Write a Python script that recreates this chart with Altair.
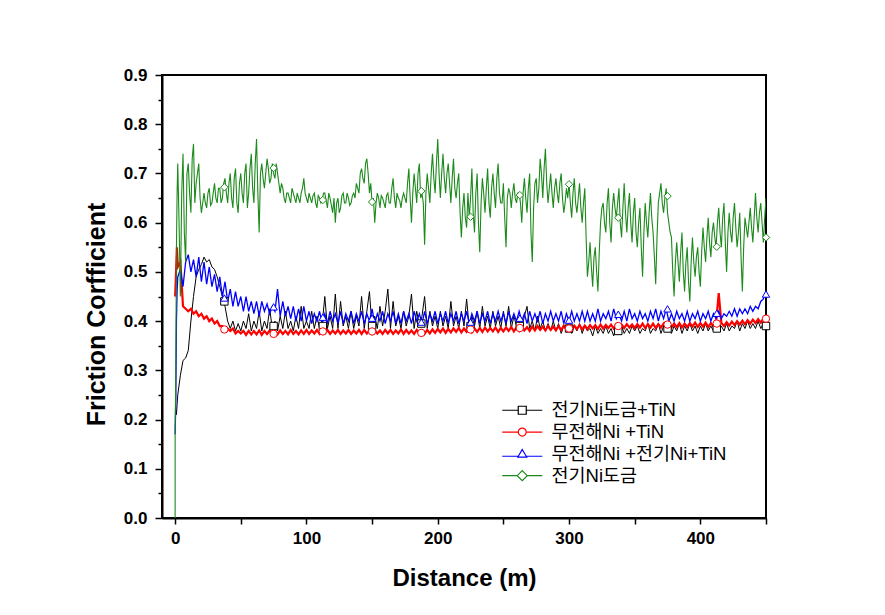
import altair as alt
import pandas as pd

# ---------------- data ----------------
names = ["전기Ni도금+TiN", "무전해Ni +TiN", "무전해Ni +전기Ni+TiN", "전기Ni도금"]
colors = ["#000000", "#ff0000", "#0000ff", "#1b8a1b"]

# first points (x < 2 m)
black_pre_x = [0.5, 1.0, 1.5]
black_pre_y = [0.22, 0.21, 0.23]
red_pre_x = [0, 0.7, 1.4]
red_pre_y = [0.45, 0.50, 0.55]
blue_pre_x = [0, 0.5, 1.0, 1.5]
blue_pre_y = [0.17, 0.24, 0.40, 0.46]
green_pre_x = [0, 0, 0.5, 1.0, 1.5]
green_pre_y = [0.0, 0.17, 0.30, 0.55, 0.66]

# samples every 2 m from x = 2 m
black_y = [
    0.25, 0.29, 0.32, 0.325, 0.34, 0.40, 0.45, 0.49, 0.505, 0.515,
    0.53, 0.52, 0.525, 0.51, 0.505, 0.49, 0.47, 0.45, 0.43, 0.40,
    0.385, 0.40, 0.38, 0.395, 0.38, 0.40, 0.385, 0.415, 0.38, 0.40,
    0.385, 0.42, 0.38, 0.40, 0.385, 0.425, 0.385, 0.40, 0.38, 0.41,
    0.385, 0.42, 0.385, 0.40, 0.38, 0.41, 0.385, 0.43, 0.385, 0.40,
    0.385, 0.42, 0.385, 0.41, 0.385, 0.395, 0.45, 0.385, 0.41, 0.385,
    0.455, 0.385, 0.44, 0.39, 0.41, 0.385, 0.42, 0.385, 0.41, 0.39,
    0.45, 0.385, 0.42, 0.46, 0.385, 0.41, 0.385, 0.43, 0.39, 0.42,
    0.465, 0.385, 0.44, 0.39, 0.41, 0.385, 0.42, 0.39, 0.41, 0.455,
    0.385, 0.42, 0.39, 0.41, 0.45, 0.385, 0.42, 0.39, 0.41, 0.385,
    0.42, 0.39, 0.41, 0.385, 0.44, 0.39, 0.41, 0.385, 0.42, 0.39,
    0.445, 0.385, 0.41, 0.39, 0.42, 0.385, 0.43, 0.39, 0.41, 0.385,
    0.42, 0.39, 0.41, 0.385, 0.42, 0.39, 0.43, 0.385, 0.41, 0.39,
    0.40, 0.385, 0.41, 0.43, 0.385, 0.40, 0.38, 0.41, 0.385, 0.40,
    0.38, 0.395, 0.38, 0.40, 0.38, 0.395, 0.375, 0.39, 0.38, 0.395,
    0.375, 0.39, 0.38, 0.395, 0.375, 0.39, 0.38, 0.385, 0.37, 0.39,
    0.375, 0.385, 0.375, 0.39, 0.375, 0.385, 0.37, 0.39, 0.38, 0.39,
    0.375, 0.385, 0.375, 0.39, 0.38, 0.39, 0.375, 0.385, 0.38, 0.395,
    0.375, 0.385, 0.38, 0.395, 0.375, 0.39, 0.38, 0.385, 0.375, 0.39,
    0.38, 0.395, 0.375, 0.39, 0.38, 0.395, 0.38, 0.39, 0.375, 0.39,
    0.38, 0.395, 0.38, 0.39, 0.38, 0.395, 0.38, 0.39, 0.38, 0.395,
    0.38, 0.39, 0.385, 0.40, 0.38, 0.395, 0.385, 0.40, 0.385, 0.395,
    0.385, 0.40, 0.385, 0.395, 0.385,
]
red_y = [
    0.51, 0.52, 0.43, 0.425, 0.42, 0.425, 0.415, 0.42, 0.41, 0.415,
    0.405, 0.41, 0.40, 0.405, 0.395, 0.40, 0.39, 0.39, 0.385, 0.385,
    0.38, 0.385, 0.375, 0.38, 0.375, 0.38, 0.372, 0.38, 0.373, 0.38,
    0.373, 0.381, 0.372, 0.38, 0.374, 0.381, 0.372, 0.38, 0.373, 0.381,
    0.374, 0.38, 0.373, 0.382, 0.374, 0.38, 0.373, 0.381, 0.374, 0.382,
    0.374, 0.381, 0.375, 0.382, 0.374, 0.381, 0.375, 0.382, 0.374, 0.381,
    0.375, 0.382, 0.374, 0.381, 0.375, 0.382, 0.374, 0.381, 0.375, 0.382,
    0.374, 0.382, 0.375, 0.381, 0.374, 0.382, 0.375, 0.381, 0.374, 0.382,
    0.375, 0.382, 0.374, 0.381, 0.375, 0.383, 0.374, 0.382, 0.375, 0.381,
    0.374, 0.382, 0.375, 0.381, 0.374, 0.382, 0.375, 0.383, 0.376, 0.384,
    0.377, 0.385, 0.376, 0.384, 0.377, 0.385, 0.378, 0.386, 0.377, 0.385,
    0.378, 0.386, 0.377, 0.385, 0.378, 0.386, 0.378, 0.387, 0.379, 0.386,
    0.379, 0.387, 0.378, 0.386, 0.379, 0.387, 0.380, 0.388, 0.379, 0.387,
    0.380, 0.389, 0.381, 0.388, 0.380, 0.389, 0.381, 0.390, 0.382, 0.389,
    0.381, 0.390, 0.382, 0.389, 0.381, 0.390, 0.382, 0.391, 0.383, 0.390,
    0.383, 0.391, 0.384, 0.392, 0.383, 0.391, 0.384, 0.392, 0.385, 0.392,
    0.384, 0.393, 0.385, 0.392, 0.386, 0.393, 0.385, 0.394, 0.386, 0.393,
    0.386, 0.394, 0.387, 0.393, 0.386, 0.394, 0.387, 0.395, 0.386, 0.394,
    0.387, 0.395, 0.386, 0.394, 0.387, 0.395, 0.388, 0.396, 0.387, 0.395,
    0.388, 0.396, 0.387, 0.395, 0.388, 0.396, 0.389, 0.397, 0.388, 0.396,
    0.389, 0.397, 0.388, 0.396, 0.389, 0.397, 0.457, 0.396, 0.390, 0.398,
    0.391, 0.399, 0.392, 0.400, 0.393, 0.401, 0.394, 0.402, 0.395, 0.403,
    0.396, 0.404, 0.397, 0.405, 0.398,
]
blue_y = [
    0.49, 0.505, 0.47, 0.52, 0.535, 0.50, 0.525, 0.49, 0.53, 0.48,
    0.52, 0.475, 0.51, 0.47, 0.495, 0.46, 0.49, 0.45, 0.48, 0.44,
    0.465, 0.43, 0.46, 0.43, 0.45, 0.42, 0.45, 0.42, 0.44, 0.415,
    0.44, 0.41, 0.44, 0.42, 0.435, 0.415, 0.43, 0.42, 0.465, 0.41,
    0.44, 0.41, 0.43, 0.405, 0.43, 0.40, 0.425, 0.40, 0.43, 0.40,
    0.42, 0.395, 0.415, 0.40, 0.42, 0.395, 0.415, 0.395, 0.42, 0.40,
    0.415, 0.395, 0.42, 0.395, 0.415, 0.40, 0.42, 0.395, 0.415, 0.40,
    0.42, 0.395, 0.415, 0.40, 0.425, 0.395, 0.415, 0.40, 0.42, 0.395,
    0.415, 0.40, 0.42, 0.395, 0.415, 0.395, 0.42, 0.40, 0.415, 0.395,
    0.42, 0.40, 0.415, 0.395, 0.42, 0.395, 0.415, 0.40, 0.42, 0.395,
    0.415, 0.40, 0.42, 0.395, 0.415, 0.40, 0.42, 0.395, 0.415, 0.40,
    0.42, 0.395, 0.415, 0.40, 0.42, 0.395, 0.415, 0.40, 0.42, 0.395,
    0.415, 0.40, 0.42, 0.40, 0.415, 0.395, 0.42, 0.40, 0.415, 0.40,
    0.42, 0.40, 0.415, 0.395, 0.42, 0.40, 0.415, 0.40, 0.42, 0.395,
    0.415, 0.40, 0.42, 0.40, 0.415, 0.40, 0.42, 0.395, 0.415, 0.40,
    0.42, 0.40, 0.415, 0.40, 0.42, 0.40, 0.42, 0.40, 0.415, 0.40,
    0.425, 0.40, 0.415, 0.405, 0.42, 0.40, 0.425, 0.405, 0.415, 0.40,
    0.42, 0.40, 0.425, 0.405, 0.415, 0.40, 0.42, 0.405, 0.415, 0.40,
    0.42, 0.405, 0.425, 0.40, 0.42, 0.405, 0.425, 0.40, 0.415, 0.40,
    0.42, 0.405, 0.415, 0.40, 0.42, 0.40, 0.415, 0.405, 0.42, 0.40,
    0.415, 0.405, 0.42, 0.40, 0.415, 0.405, 0.42, 0.405, 0.415, 0.41,
    0.42, 0.41, 0.425, 0.41, 0.425, 0.415, 0.425, 0.415, 0.43, 0.42,
    0.43, 0.425, 0.44, 0.445, 0.46,
]
# green: even metres (2, 4, ... 450)
green_y = [
    0.72, 0.45, 0.74, 0.52, 0.72, 0.62, 0.76, 0.68, 0.72, 0.62,
    0.66, 0.63, 0.67, 0.64, 0.68, 0.64, 0.67, 0.65, 0.69, 0.64,
    0.70, 0.63, 0.71, 0.62, 0.70, 0.64, 0.72, 0.66, 0.74, 0.64,
    0.77, 0.58, 0.72, 0.67, 0.73, 0.68, 0.72, 0.69, 0.70, 0.66,
    0.67, 0.64, 0.66, 0.64, 0.66, 0.64, 0.65, 0.66, 0.69, 0.65,
    0.66, 0.64, 0.66, 0.63, 0.65, 0.645, 0.66, 0.63, 0.65, 0.62,
    0.60, 0.65, 0.63, 0.66, 0.64, 0.65, 0.64, 0.66, 0.68, 0.66,
    0.71, 0.68, 0.73, 0.66, 0.64, 0.60, 0.66, 0.63, 0.65, 0.63,
    0.66, 0.64, 0.69, 0.63, 0.65, 0.63, 0.66, 0.64, 0.71, 0.60,
    0.70, 0.64, 0.72, 0.66, 0.555, 0.70, 0.64, 0.74, 0.66, 0.77,
    0.65, 0.74, 0.66, 0.72, 0.64, 0.73, 0.65, 0.70, 0.57, 0.66,
    0.59, 0.61, 0.71, 0.58, 0.70, 0.54, 0.69, 0.62, 0.71, 0.61,
    0.70, 0.63, 0.72, 0.64, 0.68, 0.55, 0.67, 0.63, 0.68, 0.64,
    0.66, 0.60, 0.69, 0.62, 0.70, 0.52, 0.68, 0.64, 0.73, 0.65,
    0.75, 0.64, 0.70, 0.63, 0.69, 0.64, 0.70, 0.62, 0.67, 0.68,
    0.61, 0.69, 0.62, 0.68, 0.60, 0.67, 0.49, 0.56, 0.47, 0.55,
    0.46, 0.60, 0.64, 0.58, 0.67, 0.56, 0.66, 0.61, 0.67, 0.57,
    0.68, 0.58, 0.66, 0.56, 0.65, 0.55, 0.63, 0.49, 0.64, 0.57,
    0.66, 0.58, 0.475, 0.64, 0.68, 0.62, 0.67, 0.60, 0.57, 0.45,
    0.56, 0.48, 0.58, 0.46, 0.55, 0.44, 0.57, 0.49, 0.55, 0.47,
    0.59, 0.52, 0.61, 0.53, 0.60, 0.55, 0.63, 0.55, 0.64, 0.50,
    0.62, 0.56, 0.64, 0.55, 0.62, 0.46, 0.61, 0.57, 0.63, 0.56,
    0.66, 0.58, 0.64, 0.56, 0.65,
]
# green: odd metres (3, 5, ... 449)
green_odd_y = [
    0.60, 0.66, 0.58, 0.70, 0.66, 0.73, 0.64, 0.70, 0.65, 0.64,
    0.64, 0.66, 0.635, 0.66, 0.65, 0.67, 0.64, 0.68, 0.66, 0.68,
    0.65, 0.69, 0.64, 0.68, 0.66, 0.70, 0.63, 0.71, 0.67, 0.72,
    0.66, 0.70, 0.69, 0.70, 0.71, 0.69, 0.70, 0.72, 0.68, 0.68,
    0.65, 0.66, 0.65, 0.67, 0.65, 0.66, 0.64, 0.67, 0.66, 0.64,
    0.65, 0.655, 0.64, 0.655, 0.64, 0.66, 0.645, 0.66, 0.635, 0.65,
    0.64, 0.62, 0.655, 0.64, 0.66, 0.635, 0.655, 0.65, 0.67, 0.70,
    0.69, 0.72, 0.70, 0.68, 0.65, 0.64, 0.65, 0.655, 0.64, 0.655,
    0.64, 0.67, 0.65, 0.66, 0.645, 0.65, 0.65, 0.68, 0.65, 0.66,
    0.67, 0.70, 0.65, 0.64, 0.66, 0.67, 0.70, 0.69, 0.72, 0.70,
    0.70, 0.69, 0.70, 0.68, 0.69, 0.67, 0.68, 0.62, 0.63, 0.61,
    0.66, 0.65, 0.62, 0.66, 0.60, 0.64, 0.66, 0.67, 0.64, 0.67,
    0.66, 0.69, 0.66, 0.64, 0.61, 0.65, 0.66, 0.66, 0.65, 0.66,
    0.64, 0.66, 0.65, 0.67, 0.58, 0.63, 0.69, 0.67, 0.70, 0.71,
    0.68, 0.67, 0.66, 0.67, 0.66, 0.68, 0.65, 0.64, 0.65, 0.64,
    0.66, 0.64, 0.65, 0.63, 0.64, 0.57, 0.52, 0.51, 0.53, 0.50,
    0.54, 0.63, 0.60, 0.64, 0.60, 0.63, 0.63, 0.64, 0.60, 0.63,
    0.62, 0.63, 0.60, 0.62, 0.58, 0.60, 0.55, 0.58, 0.60, 0.62,
    0.61, 0.53, 0.57, 0.66, 0.64, 0.65, 0.62, 0.58, 0.50, 0.52,
    0.52, 0.54, 0.50, 0.52, 0.48, 0.52, 0.52, 0.53, 0.50, 0.54,
    0.55, 0.57, 0.56, 0.58, 0.57, 0.60, 0.58, 0.61, 0.56, 0.58,
    0.58, 0.61, 0.59, 0.58, 0.53, 0.55, 0.59, 0.60, 0.59, 0.61,
    0.61, 0.62, 0.60, 0.61,
]

# symbol markers (every 37.5 m)
marker_x = [37.5, 75, 112.5, 150, 187.5, 225, 262.5, 300, 337.5, 375, 412.5, 450]
black_m = [0.44, 0.39, 0.39, 0.39, 0.395, 0.39, 0.39, 0.385, 0.38, 0.385, 0.385, 0.39]
red_m = [0.383, 0.374, 0.379, 0.379, 0.376, 0.383, 0.386, 0.385, 0.39, 0.393, 0.395, 0.405]
blue_m = [0.447, 0.429, 0.408, 0.406, 0.398, 0.398, 0.406, 0.402, 0.414, 0.425, 0.416, 0.455]
green_m = [0.672, 0.711, 0.646, 0.642, 0.664, 0.612, 0.656, 0.678, 0.61, 0.654, 0.551, 0.57]

x_ticks = [0, 50, 100, 150, 200, 250, 300, 350, 400, 450]
y_ticks = [0.0, 0.05, 0.1, 0.15, 0.2, 0.25, 0.3, 0.35, 0.4, 0.45,
           0.5, 0.55, 0.6, 0.65, 0.7, 0.75, 0.8, 0.85, 0.9]

# ---------------- build tables ----------------
def series_df(pre_x, pre_y, vals, odd_vals=None):
    xs = list(pre_x)
    ys = list(pre_y)
    pts = [(2 + 2 * i, v) for i, v in enumerate(vals)]
    if odd_vals is not None:
        pts += [(3 + 2 * i, v) for i, v in enumerate(odd_vals)]
    pts.sort(key=lambda p: p[0])
    xs += [p[0] for p in pts]
    ys += [p[1] for p in pts]
    return pd.DataFrame({"x": xs, "y": ys, "i": list(range(len(xs)))})

line_specs = [
    (series_df(black_pre_x, black_pre_y, black_y), colors[0], 1.0),
    (series_df(red_pre_x, red_pre_y, red_y), colors[1], 2.2),
    (series_df(blue_pre_x, blue_pre_y, blue_y), colors[2], 1.3),
    (series_df(green_pre_x, green_pre_y, green_y, green_odd_y), colors[3], 1.1),
]
marker_vals = [black_m, red_m, blue_m, green_m]
shapes = ["square", "circle", "triangle-up", "diamond"]
legend_paths = [
    "M-5,0H-1M1,0H5M-1,-1H1V1H-1Z",
    "M-5,0H-1M1,0H5M1,0A1,1 0 1,1 -1,0A1,1 0 1,1 1,0Z",
    "M-5,0.6H-1M1,0.6H5M0,-1.1L1.1,0.8H-1.1Z",
    "M-5,0H-1.25M1.25,0H5M0,-1.25L1.25,0L0,1.25L-1.25,0Z",
]

xscale = alt.Scale(domain=[-10, 450], nice=False, zero=False)
yscale = alt.Scale(domain=[0, 0.9], nice=False, zero=False)

xaxis = alt.Axis(
    values=x_ticks,
    labelExpr="datum.value % 100 == 0 ? datum.label : ''",
    tickSize=6,
    labelPadding=6,
    titleX=302,
    titleY=60,
    titleBaseline="middle",
    titleFontSize=24,
)
yaxis = alt.Axis(
    values=y_ticks,
    labelExpr="(round(datum.value * 100) % 10 == 0) ? format(datum.value, '.1f') : ''",
    tickSize={"condition": {"test": "round(datum.value * 100) % 10 == 0", "value": 7}, "value": 4},
    labelPadding=8,
    titleX=-66,
    titleY=239,
    titleBaseline="middle",
    titleFontSize=25,
)

X = alt.X("x:Q", scale=xscale, axis=xaxis, title="Distance (m)")
Y = alt.Y("y:Q", scale=yscale, axis=yaxis, title="Friction Corfficient")

layers = []
for df, col, w in line_specs:
    layers.append(
        alt.Chart(df).mark_line(color=col, strokeWidth=w, clip=True).encode(
            x=X, y=Y, order="i:Q"
        )
    )

for vals, col, shp in zip(marker_vals, colors, shapes):
    mdf = pd.DataFrame({"x": marker_x, "y": vals})
    layers.append(
        alt.Chart(mdf).mark_point(
            shape=shp, size=55, filled=True, fill="white", stroke=col,
            strokeWidth=1, opacity=1
        ).encode(x=X, y=Y)
    )

# legend layer (invisible points, legend only)
leg_df = pd.DataFrame({"x": [0, 0, 0, 0], "y": [0.5, 0.5, 0.5, 0.5], "series": names})
leg = alt.Legend(
    title=None,
    orient="none",
    legendX=351,
    legendY=326,
    padding=0,
    symbolSize=64,
    symbolStrokeWidth=1.2,
    symbolOpacity=1,
    labelOffset=20,
    labelFont="Liberation Sans, Noto Sans CJK KR",
    labelFontSize=18.5,
    labelLimit=400,
    labelColor="black",
    rowPadding=2.8,
)
layers.append(
    alt.Chart(leg_df).mark_point(opacity=0, filled=False, size=64).encode(
        x=X,
        y=Y,
        color=alt.Color("series:N", scale=alt.Scale(domain=names, range=colors), legend=leg),
        shape=alt.Shape("series:N", scale=alt.Scale(domain=names, range=legend_paths), legend=leg),
    )
)

chart = (
    alt.layer(*layers)
    .properties(
        width=604,
        height=443,
        autosize=alt.AutoSizeParams(type="none"),
        padding={"left": 154, "top": 67, "right": 111, "bottom": 89},
        background="white",
    )
    .configure_view(stroke="black", strokeWidth=2)
    .configure_axis(
        labelFont="Liberation Sans",
        labelFontWeight="bold",
        labelFontSize=17,
        labelColor="black",
        titleFont="Liberation Sans",
        titleFontWeight="bold",
        titleColor="black",
        tickColor="black",
        tickWidth=1.5,
        domainColor="black",
        domainWidth=2,
        grid=False,
    )
)

chart.save("out.html", embed_options={"renderer": "svg", "actions": False})
